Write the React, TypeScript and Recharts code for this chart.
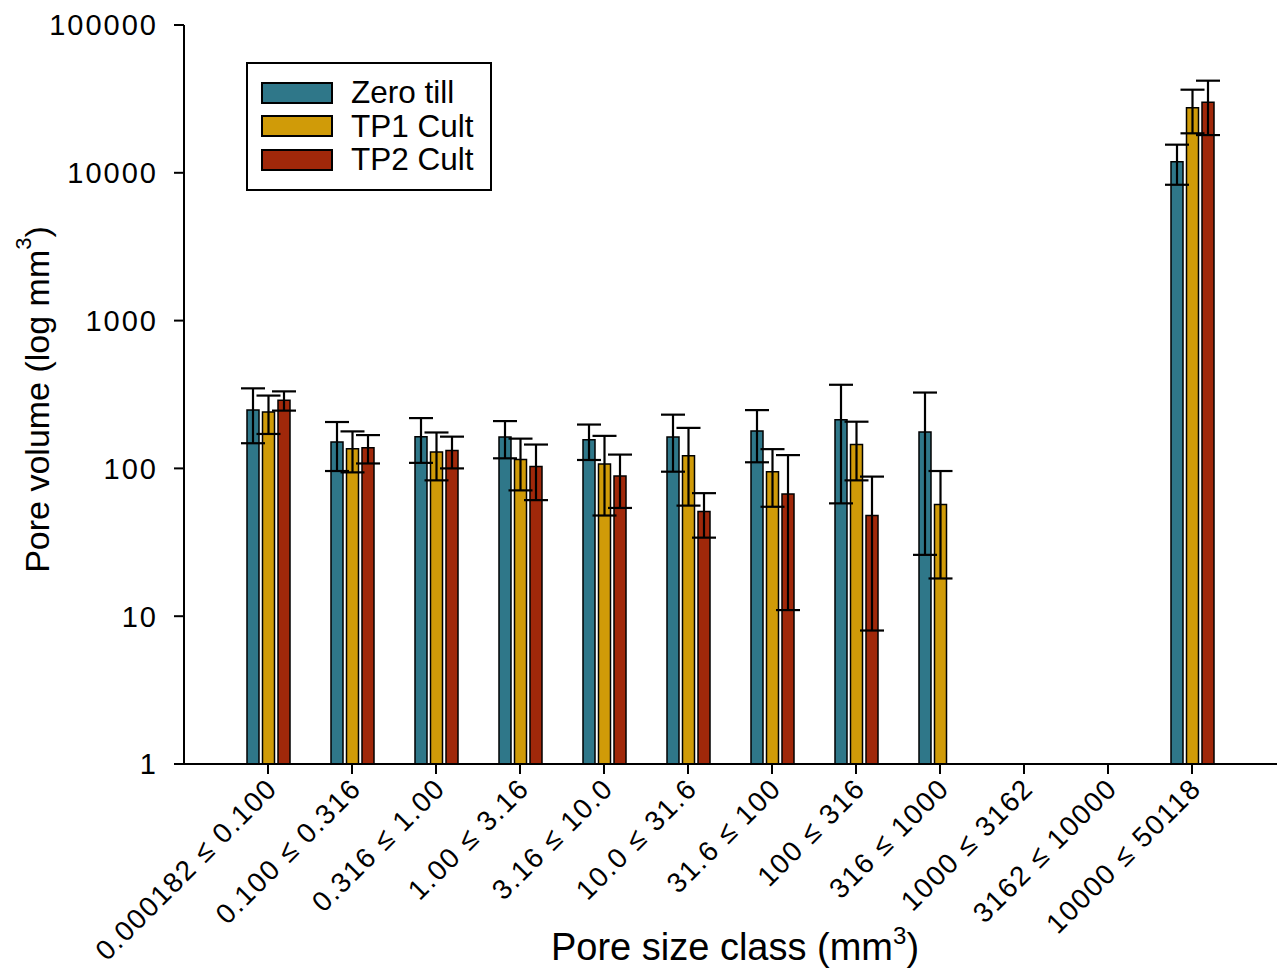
import React from 'react';
import { BarChart, Bar, XAxis, YAxis, ErrorBar, Legend, Label } from 'recharts';

// pore size classes (mm3)
const categories = [
  '0.000182 ≤ 0.100',
  '0.100 ≤ 0.316',
  '0.316 ≤ 1.00',
  '1.00 ≤ 3.16',
  '3.16 ≤ 10.0',
  '10.0 ≤ 31.6',
  '31.6 ≤ 100',
  '100 ≤ 316',
  '316 ≤ 1000',
  '1000 ≤ 3162',
  '3162 ≤ 10000',
  '10000 ≤ 50118',
];

// mean pore volume and standard error per treatment
const zeroTill = [248, 151, 164, 163, 156, 163, 179, 213, 176, null, null, 11900];
const zeroTillErr = [100, 55, 55, 46, 42, 68, 69, 155, 150, null, null, 3600];
const tp1Cult = [241, 136, 129, 115, 107, 122, 95, 145, 57, null, null, 27500];
const tp1CultErr = [70, 42, 46, 44, 59, 66, 40, 62, 39, null, null, 9000];
const tp2Cult = [289, 138, 132, 103, 89, 51, 67, 48, null, null, null, 30000];
const tp2CultErr = [43, 30, 32, 42, 35, 17, 56, 40, null, null, null, 12000];

const yTicks = [1, 10, 100, 1000, 10000, 100000];

const series = [
  { key: 'zero', err: 'zeroErr', name: 'Zero till', color: '#2F7789' },
  { key: 'tp1', err: 'tp1Err', name: 'TP1 Cult', color: '#D09B08' },
  { key: 'tp2', err: 'tp2Err', name: 'TP2 Cult', color: '#A0280A' },
];

const data = categories.map((category, i) => ({
  category,
  zero: zeroTill[i],
  zeroErr: zeroTillErr[i],
  tp1: tp1Cult[i],
  tp1Err: tp1CultErr[i],
  tp2: tp2Cult[i],
  tp2Err: tp2CultErr[i],
}));

const FONT = "Arial, 'Liberation Sans', sans-serif";

const XTick = ({ x, y, payload }: any) => {
  const ax = x + 11;
  const ay = y + 14;
  return (
    <text
      x={ax}
      y={ay}
      transform={`rotate(-45 ${ax} ${ay})`}
      textAnchor="end"
      fontSize={28}
      fontFamily={FONT}
      letterSpacing={1.6}
      fill="#000"
    >
      {payload.value}
    </text>
  );
};

const YTick = ({ x, y, payload }: any) => (
  <text
    x={x}
    y={y}
    dy="0.36em"
    textAnchor="end"
    fontSize={29}
    letterSpacing={2}
    fontFamily={FONT}
    fill="#000"
  >
    {payload.value}
  </text>
);

const YLabel = ({ viewBox }: any) => {
  const cx = 37;
  const cy = viewBox.y + viewBox.height / 2 + 5;
  return (
    <text
      x={cx}
      y={cy}
      transform={`rotate(-90 ${cx} ${cy})`}
      textAnchor="middle"
      dominantBaseline="central"
      fontSize={34}
      fontFamily={FONT}
      fill="#000"
    >
      Pore volume (log mm<tspan fontSize={22} dy={-14}>3</tspan>
      <tspan dy={14}>)</tspan>
    </text>
  );
};

const XLabel = () => (
  <text x={735} y={960} textAnchor="middle" fontSize={38} fontFamily={FONT} fill="#000">
    Pore size class (mm<tspan fontSize={24} dy={-16}>3</tspan>
    <tspan dy={16}>)</tspan>
  </text>
);

const LegendBox = () => (
  <div
    style={{
      width: 246,
      height: 129,
      boxSizing: 'border-box',
      border: '2px solid #000',
      background: '#fff',
      paddingTop: 12,
      paddingLeft: 13,
      fontFamily: FONT,
    }}
  >
    {series.map((s) => (
      <div key={s.key} style={{ display: 'flex', alignItems: 'center', height: 33.5 }}>
        <div
          style={{
            width: 72,
            height: 22,
            boxSizing: 'border-box',
            background: s.color,
            border: '2px solid #000',
          }}
        />
        <span style={{ marginLeft: 18, fontSize: 31.5, color: '#000', lineHeight: 1 }}>{s.name}</span>
      </div>
    ))}
  </div>
);

export default function App() {
  return (
    <div style={{ position: 'absolute', left: 0, top: 0, width: 1287, height: 968, background: '#fff' }}>
      <BarChart
        width={1287}
        height={968}
        data={data}
        margin={{ top: 25, right: 10, left: 0, bottom: 0 }}
        barSize={12}
        barGap={3.5}
      >
        <XAxis
          dataKey="category"
          interval={0}
          height={204}
          padding={{ left: 42, right: 43 }}
          tick={<XTick />}
          tickSize={10}
          axisLine={{ stroke: '#000', strokeWidth: 2 }}
          tickLine={{ stroke: '#000', strokeWidth: 2 }}
          label={<XLabel />}
        />
        <YAxis
          scale="log"
          domain={[1, 100000]}
          ticks={yTicks}
          allowDataOverflow
          width={184}
          tickSize={10}
          tickMargin={16}
          tick={<YTick />}
          axisLine={{ stroke: '#000', strokeWidth: 2 }}
          tickLine={{ stroke: '#000', strokeWidth: 2 }}
        >
          <Label content={<YLabel />} />
        </YAxis>
        <Legend
          layout="vertical"
          align="center"
          verticalAlign="middle"
          wrapperStyle={{ top: 62, left: 246, width: 246, height: 129 }}
          content={<LegendBox />}
        />
        {series.map((s) => (
          <Bar
            key={s.key}
            dataKey={s.key}
            name={s.name}
            fill={s.color}
            stroke="#000"
            strokeWidth={1.5}
            isAnimationActive={false}
          >
            <ErrorBar dataKey={s.err} width={12} stroke="#000" strokeWidth={2.2} />
          </Bar>
        ))}
      </BarChart>
    </div>
  );
}
